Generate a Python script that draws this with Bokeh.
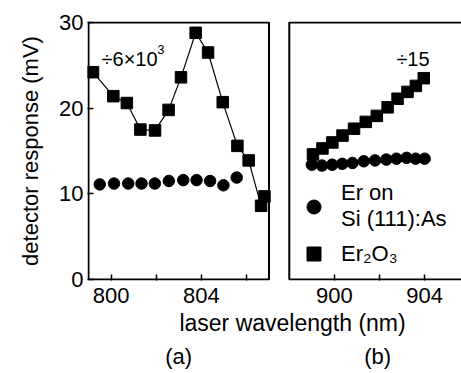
from bokeh.plotting import figure
from bokeh.models import Range1d, FixedTicker, Label, Legend, LegendItem, BoxAnnotation, LinearAxis
from bokeh.embed import file_html
from bokeh.resources import INLINE

FONT = "Liberation Sans"

# ---- data ----
# panel (a): ~800 nm
a_er2o3_x = [799.2, 800.1, 800.7, 801.3, 801.95, 802.55, 803.1, 803.75, 804.3, 804.95, 805.6, 806.1, 806.65, 806.8]
a_er2o3_y = [24.2, 21.4, 20.6, 17.5, 17.4, 19.8, 23.6, 28.8, 26.5, 20.7, 15.6, 13.9, 8.6, 9.7]
a_ersi_x = [799.5, 800.13, 800.76, 801.35, 801.94, 802.56, 803.2, 803.79, 804.39, 804.98, 805.57]
a_ersi_y = [11.1, 11.2, 11.2, 11.2, 11.2, 11.5, 11.6, 11.6, 11.5, 11.0, 11.9]

# panel (b): ~900 nm
b_er2o3_x = [899.05, 899.47, 899.91, 900.36, 900.87, 901.39, 901.88, 902.36, 902.8, 903.24, 903.61, 903.96]
b_er2o3_y = [14.6, 15.3, 16.0, 16.8, 17.6, 18.4, 19.1, 20.1, 21.1, 21.9, 22.6, 23.5]
b_ersi_x = [899.0, 899.45, 899.9, 900.35, 900.8, 901.3, 901.8, 902.3, 902.75, 903.2, 903.6, 904.0]
b_ersi_y = [13.4, 13.3, 13.4, 13.5, 13.6, 13.8, 13.9, 14.0, 14.1, 14.2, 14.1, 14.1]

y_ticks = [0, 10, 20, 30]
a_major = [800, 804]
a_minor = [802, 806]
b_major = [900, 904]
b_minor = [902]
a_limits = (799, 807)
b_limits = (898, 912)
y_limits = (0, 30)

label_ersi = "Er on\nSi (111):As"
label_er2o3 = "Er\u2082O\u2083"
x_title = "laser wavelength (nm)"
panel_names = ["(a)", "(b)"]

# both panels share one frame: panel (b) uses its own x range with the same scale,
# shifted so that it starts 20 px to the right of panel (a)
A_START = 798.9556
A_END = A_START + 373 / 22.5
B_SHIFT = 90.1


def b_to_a(v):
    return round(v - B_SHIFT, 6)


p = figure(width=461, height=373, x_range=Range1d(A_START, A_END), y_range=Range1d(-0.12, 30.12),
           output_backend="svg", toolbar_location=None, title=None,
           min_border_left=87, min_border_right=0, min_border_top=21, min_border_bottom=93)
p.extra_x_ranges = {"b": Range1d(A_START + B_SHIFT, A_END + B_SHIFT)}
p.grid.visible = False
p.outline_line_color = None


def style(ax, size="22px"):
    ax.axis_line_color = None
    ax.major_tick_in = 6
    ax.major_tick_out = 0
    ax.minor_tick_in = 6
    ax.minor_tick_out = 0
    ax.major_tick_line_width = 1.5
    ax.minor_tick_line_width = 1.5
    ax.major_tick_line_color = "black"
    ax.minor_tick_line_color = "black"
    ax.major_label_text_font = FONT
    ax.major_label_text_font_size = size
    ax.major_label_text_color = "black"
    ax.axis_label_text_font = FONT
    ax.axis_label_text_font_size = "22px"
    ax.axis_label_text_font_style = "normal"
    ax.axis_label_text_color = "black"


style(p.xaxis[0])
style(p.yaxis[0])

b_major_a = [b_to_a(v) for v in b_major]
b_minor_a = [b_to_a(v) for v in b_minor]
p.xaxis[0].ticker = FixedTicker(ticks=a_major + b_major_a, minor_ticks=a_minor + b_minor_a)
p.xaxis[0].major_label_overrides = {t: str(v) for t, v in zip(b_major_a, b_major)}
p.xaxis[0].major_label_standoff = 7
p.yaxis[0].ticker = FixedTicker(ticks=y_ticks, minor_ticks=[])
p.yaxis[0].major_label_standoff = 4
p.yaxis[0].axis_label = "detector response (mV)"
p.yaxis[0].axis_label_standoff = 13

# shared x title and panel names, as label-only axes stacked below
title_pos = 808.044
title_axis = LinearAxis(ticker=FixedTicker(ticks=[title_pos], minor_ticks=[]),
                        major_label_overrides={title_pos: x_title})
style(title_axis, "23px")
title_axis.major_tick_line_color = None
title_axis.minor_tick_line_color = None
title_axis.major_label_standoff = 4
p.add_layout(title_axis, "below")

name_pos = [803.0, 811.82]
name_axis = LinearAxis(ticker=FixedTicker(ticks=name_pos, minor_ticks=[]),
                       major_label_overrides={t: n for t, n in zip(name_pos, panel_names)})
style(name_axis, "22px")
name_axis.major_tick_line_color = None
name_axis.minor_tick_line_color = None
name_axis.major_label_standoff = 5
p.add_layout(name_axis, "below")

# panel frames
p.add_layout(BoxAnnotation(left=a_limits[0], right=a_limits[1], bottom=y_limits[0], top=y_limits[1],
                           fill_alpha=0, line_color="black", line_alpha=1, line_width=2))
p.add_layout(BoxAnnotation(left=b_limits[0], right=b_limits[1], bottom=y_limits[0], top=y_limits[1],
                           x_range_name="b", fill_alpha=0, line_color="black", line_alpha=1,
                           line_width=2))

# panel (a)
p.line(a_er2o3_x, a_er2o3_y, line_color="black", line_width=1.2)
p.scatter(a_er2o3_x, a_er2o3_y, marker="square", size=11.5, color="black")
p.scatter(a_ersi_x, a_ersi_y, marker="circle", size=11.5, color="black")

# panel (b)
p.line(b_er2o3_x, b_er2o3_y, line_color="black", line_width=1.2, x_range_name="b")
rs = p.scatter(b_er2o3_x, b_er2o3_y, marker="square", size=11.5, color="black", x_range_name="b")
rc = p.scatter(b_ersi_x, b_ersi_y, marker="circle", size=11.5, color="black", x_range_name="b")

# scale-factor notes
p.add_layout(Label(x=799.58, y=25.8, text="\u00f76\u00d710", text_font=FONT,
                   text_font_size="20px", text_baseline="alphabetic", text_align="left",
                   text_color="black"))
p.add_layout(Label(x=802.05, y=26.8, text="3", text_font=FONT,
                   text_font_size="13px", text_baseline="alphabetic", text_align="left",
                   text_color="black"))
p.add_layout(Label(x=b_to_a(904.22), y=25.8, text="\u00f715", text_font=FONT,
                   text_font_size="20px", text_baseline="alphabetic", text_align="right",
                   text_color="black"))

legend = Legend(items=[LegendItem(label=label_ersi, renderers=[rc]),
                       LegendItem(label=label_er2o3, renderers=[rs])],
                location=(209, 9), border_line_color=None, background_fill_alpha=0,
                label_text_font=FONT, label_text_font_size="22px", label_text_color="black",
                label_text_line_height=1.0,
                glyph_width=35, glyph_height=35, label_standoff=10, spacing=4,
                padding=0, margin=0)
p.add_layout(legend)

open("out.html", "w").write(file_html(p, INLINE))
